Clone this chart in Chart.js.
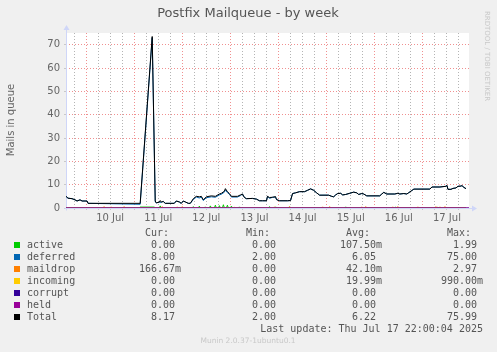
<!DOCTYPE html>
<html>
<head>
<meta charset="utf-8">
<script src="https://cdn.jsdelivr.net/npm/chart.js@4.4.1/dist/chart.umd.min.js"></script>
<style>
  html, body { margin: 0; padding: 0; background: #f0f0f0; }
  #wrap { position: relative; width: 497px; height: 352px; overflow: hidden; }
  #chart { position: absolute; left: 0; top: 0; }
  .txt { position: absolute; white-space: pre; color: #555; font-family: "DejaVu Sans Mono", monospace; font-size: 10px; line-height: 12px; }
  .sq { position: absolute; width: 6px; height: 6px; }
  .num { position: absolute; white-space: pre; text-align: right; font-family: "DejaVu Sans Mono", monospace; font-size: 10px; line-height: 12px; color: #555; }
  .num span { position: absolute; left: 100%; top: 0; }
</style>
</head>
<body>
<div id="wrap">
  <canvas id="chart" width="497" height="352"></canvas>
</div>
<script>
// hours since Jul 9 14:00 (graph start)
const hours = [0, 1, 3, 4.5, 5.5, 7, 8, 9.5, 10.5, 11, 37, 43, 44.5, 45, 46.5, 47, 47.5, 48.5, 49.5, 54,
  55, 56.5, 57.5, 58.5, 59.5, 61, 62, 63.5, 65, 66.5, 67.5, 68.5, 70, 72.5, 74.5, 76.5, 77.5, 79, 79.5, 80.5,
  81.5, 82.5, 85.5, 87, 88, 89, 90, 93, 95, 96.5, 98, 100, 100.5, 101.5, 103, 104.5, 105, 106.5, 110.5, 112,
  113, 114.5, 116.5, 119, 120.5, 122, 123.5, 125, 126.5, 131, 132.5, 133.5, 134.5, 135.5, 137, 138, 139.5, 141.5, 143.5, 145,
  146, 147.5, 148.5, 150, 156.5, 157.5, 158.5, 160, 164, 165.5, 166.5, 168.5, 170, 171, 172.5, 173.5, 181.5, 182.5, 186.5, 189.5,
  190, 190.5, 192, 193, 194.5, 195.5, 197, 197.5, 198.5, 199.5];

const totalQueue = [5.0, 4.2, 4.0, 3.5, 3.0, 3.5, 3.0, 3.0, 3.0, 2.0, 2.0, 73.5, 3.0, 2.2, 2.5, 3.2, 2.5, 2.8, 2.0, 2.0,
  3.0, 2.6, 2.0, 3.0, 2.6, 2.0, 2.0, 4.0, 5.0, 4.8, 5.0, 3.5, 4.8, 5.2, 5.0, 6.0, 6.3, 7.2, 8.3, 7.0,
  6.2, 5.0, 5.0, 5.6, 6.0, 4.5, 4.0, 4.1, 3.8, 3.1, 3.1, 3.1, 5.0, 4.5, 4.6, 4.9, 3.6, 3.1, 3.1, 3.2,
  6.2, 6.5, 7.0, 7.0, 7.6, 8.2, 7.6, 6.5, 5.5, 5.5, 5.0, 4.8, 5.6, 6.2, 6.3, 5.6, 5.8, 6.3, 6.8, 6.5,
  5.8, 6.2, 6.0, 5.2, 5.2, 6.0, 6.7, 6.0, 6.0, 6.3, 6.0, 6.2, 6.0, 6.6, 7.5, 8.1, 8.1, 9.0, 9.0, 9.3,
  9.7, 8.0, 8.0, 8.4, 8.6, 9.3, 9.4, 9.6, 8.8, 8.3];

const deferredQueue = [5.0, 4.2, 4.0, 3.5, 3.0, 3.5, 3.0, 3.0, 3.0, 2.0, 1.6, 73.0, 2.6, 2.2, 2.5, 2.3, 2.5, 2.8, 2.0, 2.0,
  3.0, 2.6, 2.0, 3.0, 2.6, 2.0, 2.0, 3.6, 4.7, 4.3, 4.7, 3.2, 4.4, 4.8, 4.6, 5.6, 5.9, 6.8, 7.8, 6.6,
  5.9, 4.7, 4.7, 5.3, 6.0, 4.5, 4.0, 4.1, 3.8, 3.1, 3.1, 3.1, 5.0, 4.1, 4.6, 4.6, 3.6, 3.1, 3.1, 3.2,
  6.2, 6.5, 7.0, 7.0, 7.6, 8.2, 7.6, 6.5, 5.5, 5.5, 5.0, 4.8, 5.6, 6.2, 6.3, 5.6, 5.8, 6.3, 6.8, 6.5,
  5.8, 6.2, 6.0, 5.2, 5.2, 6.0, 6.7, 6.0, 6.0, 6.3, 6.0, 6.2, 6.0, 6.6, 7.5, 8.1, 8.1, 9.0, 9.0, 9.3,
  9.7, 8.0, 8.0, 8.4, 8.6, 9.3, 9.4, 9.6, 8.8, 8.3];

const activeHours = [0, 36.5, 37, 44, 44.5, 46.5, 47, 47.5, 63, 63.5, 64, 66, 66.5, 67, 69, 69.5, 70, 71.5, 72, 72.5,
  74, 74.5, 75, 76, 76.5, 77, 78, 78.5, 79, 80, 80.5, 81, 82, 82.5, 83, 86, 86.5, 87, 101, 101.5,
  102, 104, 104.5, 105, 111, 111.5, 112, 139, 139.5, 140, 164, 164.5, 165, 185, 185.5, 186, 199.5];
const activeQueue = [0, 0, 0.4, 0.4, 0, 0, 0.9, 0, 0, 0.6, 0, 0, 0.8, 0, 0, 0.5, 0, 0, 0.9, 0,
  0, 1.2, 0, 0, 1.0, 0, 0, 1.4, 0, 0, 1.2, 0, 0, 0.8, 0, 0, 0.5, 0, 0, 0.6,
  0, 0, 0.5, 0, 0, 0.5, 0, 0, 0.5, 0, 0, 0.4, 0, 0, 0.4, 0, 0];

const maildropHours = [0, 18.5, 19, 19.5, 22, 22.5, 23, 28.5, 29, 29.5, 47.5, 48, 48.5, 55, 55.5, 56, 57.5, 58, 58.5,
  103.5, 104, 104.5, 111, 111.5, 112, 127.5, 128, 128.5, 131, 131.5, 132, 147, 147.5, 148, 149, 149.5, 150,
  162.5, 163, 163.5, 165, 165.5, 166, 175, 175.5, 176, 184, 184.5, 185, 186, 186.5, 187, 188.5, 189, 189.5, 199.5];
const maildropQueue = [0, 0, 0.6, 0, 0, 0.5, 0, 0, 0.6, 0, 0, 0.6, 0, 0, 0.5, 0, 0, 0.6, 0,
  0, 0.5, 0, 0, 0.6, 0, 0, 0.5, 0, 0, 0.6, 0, 0, 0.5, 0, 0, 0.6, 0,
  0, 0.5, 0, 0, 0.6, 0, 0, 0.5, 0, 0, 0.6, 0, 0, 0.5, 0, 0, 0.6, 0, 0];

const incomingHours = [0, 83.5, 84, 84.5, 199.5];
const incomingQueue = [0, 0, 0.3, 0, 0];

const flatHours = [0, 201];
const corruptQueue = [0, 0];
const heldQueue = [0, 0];

// x tick labels at noon of each day
const dayLabelHours = [22, 46, 70, 94, 118, 142, 166, 190];
const dayLabels = ['10 Jul', '11 Jul', '12 Jul', '13 Jul', '14 Jul', '15 Jul', '16 Jul', '17 Jul'];

// legend table
const seriesNames = ['active', 'deferred', 'maildrop', 'incoming', 'corrupt', 'held', 'Total'];
const seriesColors = ['#00cc00', '#0066b3', '#ff8000', '#ffcc00', '#330099', '#990099', '#000000'];
const curValues = ['0.00', '8.00', '166.67m', '0.00', '0.00', '0.00', '8.17'];
const minValues = ['0.00', '2.00', '0.00', '0.00', '0.00', '0.00', '2.00'];
const avgValues = ['107.50m', '6.05', '42.10m', '19.99m', '0.00', '0.00', '6.22'];
const maxValues = ['1.99', '75.00', '2.97', '990.00m', '0.00', '0.00', '75.99'];

const GRID = '#b4b4b4';
const MGRID = '#f09090';
const AXIS = '#cfd6f8';

function pts(xs, ys) {
  return xs.map((x, i) => ({ x, y: ys[i] }));
}

function line(label, xs, ys, color, order) {
  return { label, data: pts(xs, ys), borderColor: color, borderWidth: 1, pointRadius: 0, tension: 0, fill: false, order };
}

const decor = {
  id: 'decor',
  beforeDraw(chart) {
    const { ctx, chartArea: a } = chart;
    ctx.save();
    ctx.fillStyle = '#ffffff';
    ctx.fillRect(a.left, a.top, a.right - a.left, a.bottom - a.top);
    ctx.restore();
  },
  beforeDatasetsDraw(chart) {
    // axes with arrows, rrdtool style
    const { ctx, chartArea: a } = chart;
    const x0 = Math.round(a.left) + 0.5;
    const y0 = Math.round(a.bottom) + 0.5;
    ctx.save();
    ctx.strokeStyle = AXIS;
    ctx.fillStyle = AXIS;
    ctx.lineWidth = 1;
    ctx.beginPath();
    ctx.moveTo(x0, y0 + 2);
    ctx.lineTo(x0, a.top - 4);
    ctx.moveTo(x0 - 2, y0);
    ctx.lineTo(a.right + 4, y0);
    ctx.stroke();
    ctx.beginPath();
    ctx.moveTo(x0 - 3, a.top - 3);
    ctx.lineTo(x0 + 3, a.top - 3);
    ctx.lineTo(x0, a.top - 8);
    ctx.closePath();
    ctx.fill();
    ctx.beginPath();
    ctx.moveTo(a.right + 3, y0 - 3);
    ctx.lineTo(a.right + 3, y0 + 3);
    ctx.lineTo(a.right + 8, y0);
    ctx.closePath();
    ctx.fill();
    ctx.restore();
  },
  afterDraw(chart) {
    const { ctx } = chart;
    ctx.save();
    ctx.fillStyle = '#555';
    ctx.font = '13px "DejaVu Sans"';
    ctx.textAlign = 'center';
    ctx.textBaseline = 'middle';
    ctx.fillText('Postfix Mailqueue - by week', 248, 14);

    ctx.save();
    ctx.translate(11, 120);
    ctx.rotate(-Math.PI / 2);
    ctx.font = '10px "DejaVu Sans"';
    ctx.fillStyle = '#666';
    ctx.fillText('Mails in queue', 0, 0);
    ctx.restore();

    ctx.save();
    ctx.translate(487, 56);
    ctx.rotate(Math.PI / 2);
    ctx.font = '7px "DejaVu Sans"';
    ctx.fillStyle = '#c8c8c8';
    ctx.fillText('RRDTOOL / TOBI OETIKER', 0, 0);
    ctx.restore();

    ctx.font = '7.5px "DejaVu Sans"';
    ctx.fillStyle = '#c8c8c8';
    ctx.fillText('Munin 2.0.37-1ubuntu0.1', 248, 341);
    ctx.restore();
  }
};

new Chart(document.getElementById('chart'), {
  type: 'line',
  data: {
    datasets: [
      line('Total', hours, totalQueue, seriesColors[6], 0),
      line('held', flatHours, heldQueue, seriesColors[5], 1),
      line('corrupt', flatHours, corruptQueue, seriesColors[4], 2),
      line('incoming', incomingHours, incomingQueue, seriesColors[3], 3),
      line('maildrop', maildropHours, maildropQueue, seriesColors[2], 4),
      line('deferred', hours, deferredQueue, seriesColors[1], 5),
      line('active', activeHours, activeQueue, seriesColors[0], 6)
    ]
  },
  options: {
    responsive: false,
    animation: false,
    events: [],
    layout: { padding: { left: 0, top: 33, right: 28, bottom: 128 } },
    plugins: { legend: { display: false }, tooltip: { enabled: false } },
    scales: {
      x: {
        type: 'linear',
        min: 0,
        max: 201,
        afterFit(s) { s.height = 16; },
        afterBuildTicks(s) {
          const t = [];
          for (let h = 4; h < 201; h += 6) t.push({ value: h });
          s.ticks = t;
        },
        border: { display: false, dash: [1, 2] },
        grid: {
          color: c => ((c.tick && (c.tick.value - 10) % 24 === 0) ? MGRID : GRID),
          tickColor: '#c8c8c8',
          tickLength: 2,
          tickBorderDash: []
        },
        ticks: {
          autoSkip: false,
          maxRotation: 0,
          padding: 2,
          color: '#666',
          font: { family: 'DejaVu Sans', size: 10 },
          callback: v => {
            const i = dayLabelHours.indexOf(v);
            return i >= 0 ? dayLabels[i] : '';
          }
        }
      },
      y: {
        min: 0,
        max: 75,
        afterFit(s) { s.width = 66; },
        border: { display: false, dash: [1, 2] },
        grid: {
          color: c => (c.tick.value === 0 ? 'rgba(0,0,0,0)' : (c.tick.value % 10 === 0 ? MGRID : GRID)),
          tickColor: '#c8c8c8',
          tickLength: 2,
          tickBorderDash: []
        },
        ticks: {
          stepSize: 5,
          padding: 4,
          color: '#666',
          font: { family: 'DejaVu Sans', size: 10 },
          callback: v => (v % 10 === 0 ? String(v) : '')
        }
      }
    }
  },
  plugins: [decor]
});

// legend table as text
const wrap = document.getElementById('wrap');
const colRight = [175, 276, 376, 477];
const headers = ['Cur:', 'Min:', 'Avg:', 'Max:'];

function addText(text, top, left, right) {
  const d = document.createElement('div');
  d.className = 'txt';
  d.textContent = text;
  d.style.top = top + 'px';
  if (left != null) d.style.left = left + 'px';
  if (right != null) d.style.right = (497 - right) + 'px';
  wrap.appendChild(d);
  return d;
}

function addNum(val, right, top) {
  const m = val.endsWith('m');
  const d = document.createElement('div');
  d.className = 'num';
  d.textContent = m ? val.slice(0, -1) : val;
  d.style.right = (497 - right) + 'px';
  d.style.top = top + 'px';
  if (m) {
    const s = document.createElement('span');
    s.textContent = 'm';
    d.appendChild(s);
  }
  wrap.appendChild(d);
}

headers.forEach((h, i) => addText(h, 227, null, colRight[i] - 6));

const cols = [curValues, minValues, avgValues, maxValues];
seriesNames.forEach((name, r) => {
  const top = 238.5 + r * 12;
  const sq = document.createElement('div');
  sq.className = 'sq';
  sq.style.left = '14px';
  sq.style.top = (top + 3) + 'px';
  sq.style.background = seriesColors[r];
  wrap.appendChild(sq);
  addText(name, top, 27, null);
  cols.forEach((c, i) => addNum(c[r], colRight[i], top));
});

addText('Last update: Thu Jul 17 22:00:04 2025', 322.5, null, 483);
</script>
</body>
</html>
